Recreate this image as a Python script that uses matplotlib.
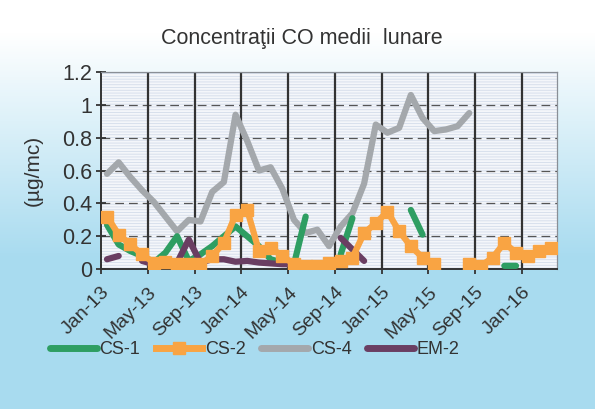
import numpy as np
import matplotlib
matplotlib.use("Agg")
import matplotlib.pyplot as plt
from matplotlib.patches import Rectangle

N = None
months = ["Jan-13", "Feb-13", "Mar-13", "Apr-13", "May-13", "Jun-13", "Jul-13", "Aug-13",
          "Sep-13", "Oct-13", "Nov-13", "Dec-13", "Jan-14", "Feb-14", "Mar-14", "Apr-14",
          "May-14", "Jun-14", "Jul-14", "Aug-14", "Sep-14", "Oct-14", "Nov-14", "Dec-14",
          "Jan-15", "Feb-15", "Mar-15", "Apr-15", "May-15", "Jun-15", "Jul-15", "Aug-15",
          "Sep-15", "Oct-15", "Nov-15", "Dec-15", "Jan-16", "Feb-16", "Mar-16"]

cs1 = [0.27, 0.15, 0.11, 0.08, 0.04, 0.10, 0.20, 0.05, 0.09, 0.14, 0.20, 0.26, 0.20,
       0.14, 0.06, 0.04, 0.03, 0.32, N, N, 0.09, 0.31, N, N, N, N, 0.36, 0.21,
       N, N, N, N, N, N, 0.02, 0.02, N, N, N]
cs2 = [0.32, 0.21, 0.15, 0.09, 0.04, 0.045, 0.03, 0.03, 0.03, 0.08, 0.16, 0.33, 0.36,
       0.11, 0.13, 0.08, 0.03, 0.02, 0.02, 0.04, 0.05, 0.07, 0.22, 0.28, 0.35, 0.23,
       0.14, 0.07, 0.03, N, N, 0.03, 0.02, 0.07, 0.16, 0.10, 0.08, 0.11, 0.13]
cs4 = [0.58, 0.65, 0.56, 0.48, 0.41, 0.32, 0.23, 0.30, 0.29, 0.47, 0.53, 0.94, 0.78,
       0.60, 0.62, 0.49, 0.30, 0.22, 0.24, 0.14, 0.26, 0.34, 0.52, 0.88, 0.83, 0.86,
       1.06, 0.92, 0.84, 0.85, 0.87, 0.95, N, N, N, N, N, N, N]
em2 = [0.06, 0.08, N, 0.05, 0.03, 0.03, 0.04, 0.18, 0.04, 0.06, 0.06, 0.045, 0.05,
       0.04, 0.035, 0.03, 0.03, 0.03, 0.03, N, 0.19, 0.12, 0.05, N, N, N, N, N,
       N, N, N, N, N, N, N, N, N, N, N]

yticks = [0, 0.2, 0.4, 0.6, 0.8, 1.0, 1.2]
ytick_labels = ["0", "0.2", "0.4", "0.6", "0.8", "1", "1.2"]

def arr(v):
    return np.array([np.nan if x is None else x for x in v], dtype=float)

plt.rcParams['font.family'] = ['Liberation Sans', 'DejaVu Sans']
plt.rcParams['hatch.linewidth'] = 0.6

fig = plt.figure(figsize=(5.95, 4.09), dpi=100)

# background gradient
bg = fig.add_axes([0, 0, 1, 1], zorder=-10)
grad = np.linspace(0, 1, 256).reshape(-1, 1)
top = np.array([1.0, 1.0, 1.0])
bot = np.array([0.66, 0.86, 0.94])
t = np.clip((grad - 0.08) / 0.55, 0, 1)
img = top * (1 - t)[..., None] + bot * t[..., None]
img = img.reshape(256, 1, 3)
bg.imshow(img, aspect='auto', extent=[0, 1, 0, 1], origin='upper')
bg.axis('off')

ax = fig.add_axes([0.170, 0.342, 0.766, 0.482])
ax.set_facecolor('#F4F6FA')
ax.add_patch(Rectangle((0, 0), 1, 1, transform=ax.transAxes, facecolor='none',
                       edgecolor='#D3DCEA', hatch='------', linewidth=0, zorder=0))

n = len(months)
x = np.arange(n) + 0.5

lw = 4.5
ax.plot(x, arr(cs1), color='#2E9E62', lw=lw, solid_capstyle='round', label='CS-1', zorder=3)
ax.plot(x, arr(cs2), color='#F9A443', lw=lw, marker='s', markersize=9,
        markeredgecolor='#F9A443', label='CS-2', zorder=4)
ax.plot(x, arr(cs4), color='#A4A8AC', lw=lw, solid_capstyle='round', label='CS-4', zorder=2)
ax.plot(x, arr(em2), color='#6A3E62', lw=lw, solid_capstyle='round', label='EM-2', zorder=3)

ax.set_xlim(0, n)
ax.set_ylim(0, 1.2)
ticks = np.arange(0, n, 4)
ax.set_xticks(ticks)
ax.set_xticklabels([months[i] for i in ticks], rotation=45, ha='right',
                   rotation_mode='anchor', fontsize=14, color='#333333')
ax.set_yticks(yticks)
ax.set_yticklabels(ytick_labels, fontsize=15.5, color='#333333')
ax.tick_params(axis='both', direction='inout', length=7, width=1.3, color='#333333', pad=3)
ax.tick_params(axis='x', pad=7)

for yv in yticks[1:-1]:
    ax.axhline(yv, color='#555555', lw=0.9, ls=(0, (7, 4)), zorder=1)
for xv in ticks[1:]:
    ax.axvline(xv, color='#333333', lw=1.6, zorder=1)

for s in ['top', 'right']:
    ax.spines[s].set_color('#8A8F96')
    ax.spines[s].set_linewidth(0.9)
ax.spines['left'].set_color('#333333')
ax.spines['left'].set_linewidth(1.4)
ax.spines['bottom'].set_color('#333333')
ax.spines['bottom'].set_linewidth(1.4)

ax.set_ylabel('(µg/mc)', fontsize=15, color='#333333', labelpad=14)

fig.text(0.507, 0.907, 'Concentraţii CO medii  lunare', ha='center', va='center',
         fontsize=15.5, color='#333333')

leg = fig.legend(loc='center', bbox_to_anchor=(0.428, 0.145), ncol=4, frameon=False,
                 handlelength=2.6, handletextpad=0.15, columnspacing=0.85,
                 fontsize=13, labelcolor='#333333')
for h in leg.get_lines():
    h.set_linewidth(5)

fig.savefig('out.png', dpi=100)
